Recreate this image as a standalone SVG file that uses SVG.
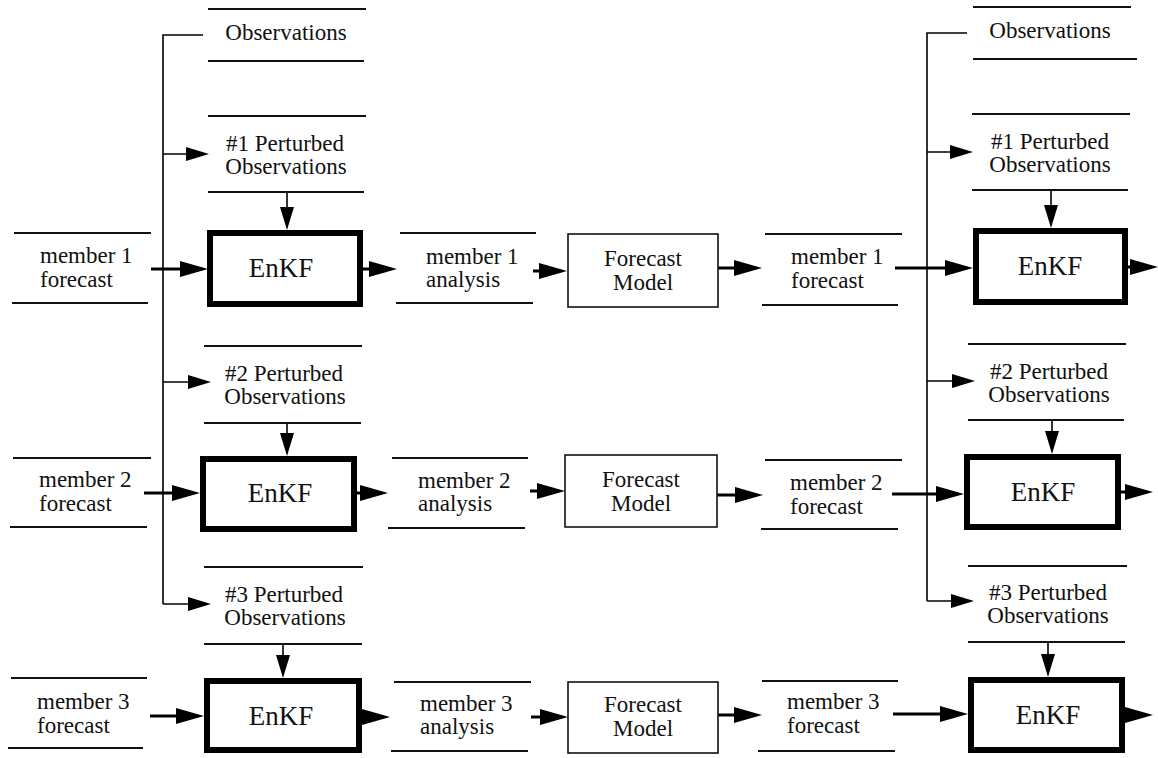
<svg xmlns="http://www.w3.org/2000/svg" width="1158" height="758" viewBox="0 0 1158 758">
<style>
.ln{stroke:#111;stroke-width:2;fill:none}
.box{fill:#fff;stroke:#000;stroke-width:6}
.fm{fill:#fff;stroke:#111;stroke-width:1.6}
.t{font-family:"Liberation Serif","Times New Roman","DejaVu Serif",serif;font-size:23px;fill:#111}
.c{text-anchor:middle}
.e{font-family:"Liberation Serif","Times New Roman","DejaVu Serif",serif;font-size:27px;fill:#111;text-anchor:middle}
.thk{stroke:#000;stroke-width:3;fill:none;marker-end:url(#big)}
.thn{stroke:#000;stroke-width:1.6;fill:none;marker-end:url(#sm)}
.bus{stroke:#000;stroke-width:1.6;fill:none}
</style>
<defs>
<marker id="big" markerUnits="userSpaceOnUse" markerWidth="28" markerHeight="16" refX="22" refY="8" orient="auto"><path d="M0,0 L28,8 L0,16 z" fill="#000"/></marker>
<marker id="sm" markerUnits="userSpaceOnUse" markerWidth="23" markerHeight="14" refX="19" refY="7" orient="auto"><path d="M0,0 L23,7 L0,14 z" fill="#000"/></marker>
</defs>
<rect width="1158" height="758" fill="#fff"/>

<g id="connectors">
<path class="bus" d="M203,35 H163 V604"/>
<path class="thn" d="M163,154 H205"/>
<path class="thn" d="M163,382 H207"/>
<path class="thn" d="M163,604 H207"/>
<path class="thn" d="M287,192 V226"/>
<path class="thn" d="M287,423 V452"/>
<path class="thn" d="M283,644 V674"/>
<path class="thk" d="M151,269 H202"/>
<path class="thk" d="M144,493 H194"/>
<path class="thk" d="M150,716 H198"/>
<path class="thk" d="M363,269 H391"/>
<path class="thk" d="M357,493 H382"/>
<path class="thk" d="M362,717 H384"/>
<path class="thk" d="M533,271 H561"/>
<path class="thk" d="M530,491 H559"/>
<path class="thk" d="M531,717 H562"/>
<path class="thk" d="M718,268 H756"/>
<path class="thk" d="M717,495 H757"/>
<path class="thk" d="M718,715 H756"/>
<path class="thk" d="M895,268 H967"/>
<path class="thk" d="M892,494 H958"/>
<path class="thk" d="M893,714 H962"/>
<path class="bus" d="M967,33 H927 V601"/>
<path class="thn" d="M927,152 H969"/>
<path class="thn" d="M927,381 H971"/>
<path class="thn" d="M927,601 H970"/>
<path class="thn" d="M1051,190 V224"/>
<path class="thn" d="M1052,420 V450"/>
<path class="thn" d="M1048,642 V673"/>
<path class="thk" d="M1128,267 H1152"/>
<path class="thk" d="M1121,492 H1147"/>
<path class="thk" d="M1125,715 H1147"/>
</g>

<g id="obs-left">
<path class="ln" d="M208,9 H366 M208,61 H364"/>
<text class="t c" x="286" y="40">Observations</text>
</g>
<g id="pobs1-left">
<path class="ln" d="M208,116 H366 M208,192 H364"/>
<text class="t c" x="285" y="151">#1 Perturbed</text>
<text class="t c" x="286" y="174">Observations</text>
</g>
<g id="pobs2-left">
<path class="ln" d="M204,346 H362 M204,423 H361"/>
<text class="t c" x="284" y="381">#2 Perturbed</text>
<text class="t c" x="285" y="404">Observations</text>
</g>
<g id="pobs3-left">
<path class="ln" d="M204,567 H363 M204,644 H362"/>
<text class="t c" x="284" y="602">#3 Perturbed</text>
<text class="t c" x="285" y="625">Observations</text>
</g>

<g id="mf1-left">
<path class="ln" d="M14,233 H151 M12,303 H148"/>
<text class="t" x="40" y="263">member 1</text>
<text class="t" x="40" y="287">forecast</text>
</g>
<g id="mf2-left">
<path class="ln" d="M13,458 H151 M10,527 H147"/>
<text class="t" x="39" y="487">member 2</text>
<text class="t" x="39" y="511">forecast</text>
</g>
<g id="mf3-left">
<path class="ln" d="M11,678 H147 M8,748 H143"/>
<text class="t" x="37" y="709">member 3</text>
<text class="t" x="37" y="733">forecast</text>
</g>

<g id="enkf1-left">
<rect class="box" x="210" y="233" width="150" height="71"/>
<text class="e" x="281" y="277">EnKF</text>
</g>
<g id="enkf2-left">
<rect class="box" x="203" y="459" width="151" height="70"/>
<text class="e" x="280" y="502">EnKF</text>
</g>
<g id="enkf3-left">
<rect class="box" x="207" y="681" width="152" height="69"/>
<text class="e" x="281" y="725">EnKF</text>
</g>

<g id="ma1">
<path class="ln" d="M400,233 H536 M396,303 H533"/>
<text class="t" x="426" y="264">member 1</text>
<text class="t" x="426" y="287">analysis</text>
</g>
<g id="ma2">
<path class="ln" d="M392,458 H528 M388,528 H525"/>
<text class="t" x="418" y="488">member 2</text>
<text class="t" x="418" y="511">analysis</text>
</g>
<g id="ma3">
<path class="ln" d="M394,682 H531 M391,751 H528"/>
<text class="t" x="420" y="711">member 3</text>
<text class="t" x="420" y="734">analysis</text>
</g>

<g id="fm1">
<rect class="fm" x="568" y="234" width="150" height="73"/>
<text class="t c" x="643" y="266">Forecast</text>
<text class="t c" x="643" y="290">Model</text>
</g>
<g id="fm2">
<rect class="fm" x="565" y="455" width="152" height="72"/>
<text class="t c" x="641" y="487">Forecast</text>
<text class="t c" x="641" y="511">Model</text>
</g>
<g id="fm3">
<rect class="fm" x="568" y="682" width="150" height="71"/>
<text class="t c" x="643" y="712">Forecast</text>
<text class="t c" x="643" y="736">Model</text>
</g>

<g id="mf1-right">
<path class="ln" d="M765,234 H902 M762,305 H898"/>
<text class="t" x="791" y="264">member 1</text>
<text class="t" x="791" y="288">forecast</text>
</g>
<g id="mf2-right">
<path class="ln" d="M765,460 H902 M761,529 H898"/>
<text class="t" x="790" y="490">member 2</text>
<text class="t" x="790" y="514">forecast</text>
</g>
<g id="mf3-right">
<path class="ln" d="M762,681 H898 M758,751 H895"/>
<text class="t" x="787" y="709">member 3</text>
<text class="t" x="787" y="733">forecast</text>
</g>

<g id="obs-right">
<path class="ln" d="M973,7 H1131 M973,59 H1137"/>
<text class="t c" x="1050" y="38">Observations</text>
</g>
<g id="pobs1-right">
<path class="ln" d="M972,114 H1130 M972,190 H1128"/>
<text class="t c" x="1050" y="149">#1 Perturbed</text>
<text class="t c" x="1050" y="172">Observations</text>
</g>
<g id="pobs2-right">
<path class="ln" d="M968,344 H1126 M968,420 H1124"/>
<text class="t c" x="1049" y="379">#2 Perturbed</text>
<text class="t c" x="1049" y="402">Observations</text>
</g>
<g id="pobs3-right">
<path class="ln" d="M968,566 H1127 M968,642 H1125"/>
<text class="t c" x="1048" y="600">#3 Perturbed</text>
<text class="t c" x="1048" y="623">Observations</text>
</g>

<g id="enkf1-right">
<rect class="box" x="976" y="231" width="149" height="71"/>
<text class="e" x="1050" y="275">EnKF</text>
</g>
<g id="enkf2-right">
<rect class="box" x="967" y="457" width="151" height="70"/>
<text class="e" x="1043" y="501">EnKF</text>
</g>
<g id="enkf3-right">
<rect class="box" x="971" y="680" width="151" height="70"/>
<text class="e" x="1048" y="724">EnKF</text>
</g>
</svg>
